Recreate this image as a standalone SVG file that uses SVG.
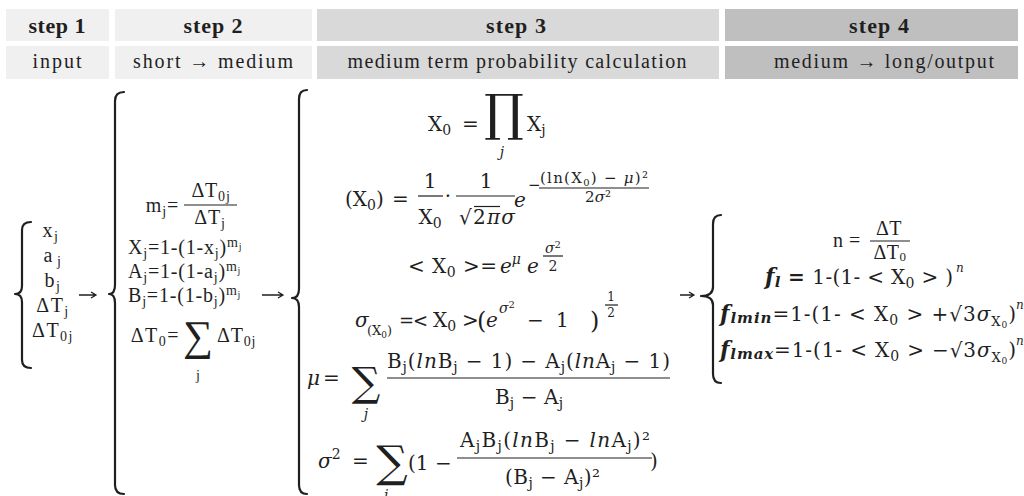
<svg xmlns="http://www.w3.org/2000/svg" width="1024" height="496" viewBox="0 0 1024 496">
<style>
text{font-family:"Liberation Serif","DejaVu Serif",serif;fill:#1f1f1f}
.hd{font-size:22px;font-weight:bold}
.sh{font-size:20px}
.f1{font-size:20px;letter-spacing:1.5px}
.f2{font-size:20px;letter-spacing:0.8px}
.m{font-family:"DejaVu Serif","Liberation Serif",serif}
.f3{font-size:20px}
.f4{font-size:20px;letter-spacing:0.5px}
.i{font-style:italic}
.bi{font-style:italic;font-weight:bold}
.br{fill:none;stroke:#1f1f1f;stroke-width:2.2;stroke-linecap:round;stroke-linejoin:round}
.bar{stroke:#1f1f1f;stroke-width:1.2}
.ar{fill:none;stroke:#1f1f1f;stroke-width:1.3}
.c12{fill:#f0f0f0}.c3{fill:#d9d9d9}.c4{fill:#bfbfbf}
</style>
<g id="header">
<rect class="c12" x="6" y="9" width="103" height="32"/>
<rect class="c12" x="115" y="9" width="197" height="32"/>
<rect class="c3" x="317" y="9" width="402" height="32"/>
<rect class="c4" x="725" y="9" width="293" height="32"/>
<rect class="c12" x="6" y="46" width="103" height="33"/>
<rect class="c12" x="115" y="46" width="197" height="33"/>
<rect class="c3" x="317" y="46" width="402" height="33"/>
<rect class="c4" x="725" y="46" width="293" height="33"/>
<text class="hd" x="57" y="33" text-anchor="middle" textLength="57">step 1</text>
<text class="hd" x="213" y="33" text-anchor="middle" textLength="59">step 2</text>
<text class="hd" x="516" y="33" text-anchor="middle" textLength="60">step 3</text>
<text class="hd" x="879" y="33" text-anchor="middle" textLength="60">step 4</text>
<text class="sh" x="57" y="68" text-anchor="middle" textLength="49">input</text>
<text class="sh" x="213" y="68" text-anchor="middle" textLength="160">short → medium</text>
<text class="sh" x="517" y="68" text-anchor="middle" textLength="339">medium term probability calculation</text>
<text class="sh" x="884" y="68" text-anchor="middle" textLength="220">medium → long/output</text>
</g>
<g id="step1-input">
<path class="br" d="M31,222 Q22,222 22,230 L22,286 Q22,294 15,294 Q22,294 22,302 L22,360 Q22,368 31,368"/>
<text class="f1" x="51" y="237" text-anchor="middle">x<tspan font-size="14" dy="4">j</tspan></text>
<text class="f1" x="53" y="262" text-anchor="middle">a<tspan font-size="14" dy="4" dx="3">j</tspan></text>
<text class="f1" x="53" y="287" text-anchor="middle">b<tspan font-size="14" dy="4">j</tspan></text>
<text class="f1" x="53" y="312" text-anchor="middle">ΔT<tspan font-size="14" dy="4">j</tspan></text>
<text class="f1" x="53" y="337" text-anchor="middle">ΔT<tspan font-size="14" dy="4">0j</tspan></text>
</g>
<g id="step2-short-medium">
<path class="br" d="M124,92 Q115,92 115,101 L115,285 Q115,294 109,294 Q115,294 115,303 L115,485 Q115,494 124,494"/>
<text class="f2" x="179" y="212" text-anchor="end">m<tspan font-size="14" dy="4">j</tspan><tspan dy="-4">=</tspan></text>
<text class="f2" x="211" y="197" text-anchor="middle">ΔT<tspan font-size="14" dy="4">0j</tspan></text>
<line class="bar" x1="184" y1="205" x2="237" y2="205"/>
<text class="f2" x="210" y="224" text-anchor="middle">ΔT<tspan font-size="14" dy="4">j</tspan></text>
<text class="f2" x="128" y="254">X<tspan font-size="14" dy="4">j</tspan><tspan dy="-4">=1-(1-x</tspan><tspan font-size="14" dy="4">j</tspan><tspan dy="-4">)</tspan><tspan font-size="14" dy="-7">m</tspan><tspan font-size="10" dy="3">j</tspan></text>
<text class="f2" x="128" y="278">A<tspan font-size="14" dy="4">j</tspan><tspan dy="-4">=1-(1-a</tspan><tspan font-size="14" dy="4">j</tspan><tspan dy="-4">)</tspan><tspan font-size="14" dy="-7">m</tspan><tspan font-size="10" dy="3">j</tspan></text>
<text class="f2" x="128" y="302">B<tspan font-size="14" dy="4">j</tspan><tspan dy="-4">=1-(1-b</tspan><tspan font-size="14" dy="4">j</tspan><tspan dy="-4">)</tspan><tspan font-size="14" dy="-7">m</tspan><tspan font-size="10" dy="3">j</tspan></text>
<text class="f2" x="180" y="342" text-anchor="end" font-size="21" style="letter-spacing:1.5px">ΔT<tspan font-size="14" dy="4">0</tspan><tspan dy="-4">=</tspan></text>
<text x="198" y="350" font-size="42" text-anchor="middle">∑</text>
<text class="f2" x="217" y="342">ΔT<tspan font-size="14" dy="4">0j</tspan></text>
<text x="198" y="380" font-size="14" text-anchor="middle">j</text>
</g>
<g id="step3-probability">
<path class="br" d="M307,90 Q299,90 299,99 L299,289 Q299,298 292,298 Q299,298 299,307 L299,485 Q299,494 307,494"/>
<text class="m f3" x="428" y="131">X<tspan font-size="14" dy="4">0</tspan><tspan dy="-4" x="462">=</tspan></text>
<text class="m" x="504" y="130" font-size="50" text-anchor="middle">∏</text>
<text class="m f3" x="527" y="131">X<tspan font-size="14" dy="4">j</tspan></text>
<text class="m i" x="502" y="157" font-size="14" text-anchor="middle">j</text>
<text class="m f3" x="345" y="206">(X<tspan font-size="14" dy="4">0</tspan><tspan dy="-4">)</tspan><tspan x="392">=</tspan></text>
<text class="m f3" x="430" y="188" text-anchor="middle">1</text>
<line class="bar" x1="418" y1="196" x2="443" y2="196"/>
<text class="m f3" x="430" y="224" text-anchor="middle">X<tspan font-size="14" dy="4">0</tspan></text>
<text class="m f3" x="448" y="203" text-anchor="middle">·</text>
<text class="m f3" x="486" y="188" text-anchor="middle">1</text>
<line class="bar" x1="456" y1="196" x2="515" y2="196"/>
<text class="m f3" x="459" y="224" textLength="56">√2<tspan class="i">πσ</tspan></text>
<line class="bar" x1="474" y1="206.5" x2="500" y2="206.5"/>
<text class="m f3 i" x="514" y="207">e</text>
<text class="m" font-size="15" x="528" y="190">−</text>
<text class="m" font-size="15" x="540" y="183" textLength="108">(ln(X<tspan font-size="10" dy="3">0</tspan><tspan dy="-3">) − </tspan><tspan class="i">μ</tspan>)²</text>
<line class="bar" x1="539" y1="188" x2="649" y2="188"/>
<text class="m" font-size="15" x="598" y="202" text-anchor="middle">2<tspan class="i">σ</tspan>²</text>
<text class="m f3" x="408" y="273" textLength="89">&lt; X<tspan font-size="14" dy="4">0</tspan><tspan dy="-4"> &gt;=</tspan></text>
<text class="m f3 i" x="500" y="273">e<tspan font-size="14" dy="-9">μ</tspan><tspan dy="9" x="527">e</tspan></text>
<text class="m i" font-size="14" x="553" y="253" text-anchor="middle">σ<tspan font-style="normal" font-size="10" dy="-5">2</tspan></text>
<line class="bar" x1="543" y1="256" x2="563" y2="256"/>
<text class="m" font-size="14" x="553" y="271" text-anchor="middle">2</text>
<text class="m f3 i" x="355" y="327">σ</text>
<text class="m" font-size="13" x="367" y="335">(X<tspan font-size="9" dy="3">0</tspan><tspan dy="-3">)</tspan></text>
<text class="m" font-size="18" x="399" y="327">=</text>
<text class="m" font-size="18" x="413" y="327">&lt;</text>
<text class="m f3" x="433" y="327">X<tspan font-size="14" dy="4">0</tspan><tspan dy="-4" x="462">&gt;</tspan></text>
<text class="m" font-size="24" x="477" y="329">(</text>
<text class="m f3 i" x="486" y="327">e</text>
<text class="m i" font-size="14" x="499" y="313">σ<tspan font-style="normal" font-size="10" dy="-5">2</tspan></text>
<text class="m f3" x="527" y="327">−<tspan x="556">1</tspan></text>
<text class="m" font-size="24" x="590" y="329">)</text>
<text class="m" font-size="12" x="611" y="301" text-anchor="middle">1</text>
<line class="bar" x1="605" y1="305" x2="618" y2="305"/>
<text class="m" font-size="12" x="611" y="317" text-anchor="middle">2</text>
<text class="m f3 i" x="307" y="385">μ<tspan font-style="normal" x="323">=</tspan></text>
<text class="m" x="366" y="396" font-size="40" text-anchor="middle">∑</text>
<text class="m i" x="366" y="419" font-size="14" text-anchor="middle">j</text>
<text class="m f3" x="387" y="368" textLength="283">B<tspan font-size="14" dy="4">j</tspan><tspan dy="-4">(</tspan><tspan class="i">ln</tspan>B<tspan font-size="14" dy="4">j</tspan><tspan dy="-4"> − 1) − A</tspan><tspan font-size="14" dy="4">j</tspan><tspan dy="-4">(</tspan><tspan class="i">ln</tspan>A<tspan font-size="14" dy="4">j</tspan><tspan dy="-4"> − 1)</tspan></text>
<line class="bar" x1="387" y1="378" x2="670" y2="378"/>
<text class="m f3" x="495" y="404" textLength="68">B<tspan font-size="14" dy="4">j</tspan><tspan dy="-4"> − A</tspan><tspan font-size="14" dy="4">j</tspan></text>
<text class="m f3 i" x="318" y="468">σ<tspan font-style="normal" font-size="14" dy="-9">2</tspan><tspan font-style="normal" dy="9" x="352">=</tspan></text>
<text class="m" x="392" y="477" font-size="44" text-anchor="middle">∑</text>
<text class="m i" x="386" y="500" font-size="14" text-anchor="middle">j</text>
<text class="m f3" x="408" y="470">(1 −</text>
<text class="m f3" x="460" y="447" textLength="190">A<tspan font-size="14" dy="4">j</tspan><tspan dy="-4">B</tspan><tspan font-size="14" dy="4">j</tspan><tspan dy="-4">(</tspan><tspan class="i">ln</tspan>B<tspan font-size="14" dy="4">j</tspan><tspan dy="-4"> − </tspan><tspan class="i">ln</tspan>A<tspan font-size="14" dy="4">j</tspan><tspan dy="-4">)²</tspan></text>
<line class="bar" x1="457" y1="458" x2="652" y2="458"/>
<text class="m f3" x="505" y="484" textLength="95">(B<tspan font-size="14" dy="4">j</tspan><tspan dy="-4"> − A</tspan><tspan font-size="14" dy="4">j</tspan><tspan dy="-4">)²</tspan></text>
<text class="m f3" x="650" y="468">)</text>
</g>
<g id="step4-long-output">
<path class="br" d="M721,215 Q713,215 713,224 L713,287 Q713,296 701,296 Q713,296 713,305 L713,374 Q713,383 721,383"/>
<text class="f4" x="833" y="247">n =</text>
<text class="f4" x="889" y="235" text-anchor="middle">ΔT</text>
<line class="bar" x1="870" y1="241" x2="910" y2="241"/>
<text class="f4" x="890" y="259" text-anchor="middle">ΔT<tspan font-size="13" dy="2">0</tspan></text>
<text class="m" font-size="20" x="765" y="284" textLength="188"><tspan class="bi" font-size="22">f</tspan><tspan class="bi" font-size="15" dy="3">l</tspan><tspan dy="-3" font-weight="bold"> = </tspan>1-(1- &lt; X<tspan font-size="14" dy="4">0</tspan><tspan dy="-4"> &gt; )</tspan></text>
<text class="m i" x="956" y="272" font-size="12">n</text>
<text class="m" font-size="20" x="720" y="321" textLength="296"><tspan class="bi" font-size="22">f</tspan><tspan class="bi" font-size="15" dy="2">lmin</tspan><tspan dy="-2">=1-(1- &lt; X</tspan><tspan font-size="14" dy="4">0</tspan><tspan dy="-4"> &gt; +√3</tspan><tspan class="i">σ</tspan><tspan font-size="13" dy="5">X</tspan><tspan font-size="9" dy="2">0</tspan><tspan dy="-7">)</tspan></text>
<text class="m i" x="1016" y="309" font-size="12">n</text>
<text class="m" font-size="20" x="720" y="357" textLength="296"><tspan class="bi" font-size="22">f</tspan><tspan class="bi" font-size="15" dy="2">lmax</tspan><tspan dy="-2">=1-(1- &lt; X</tspan><tspan font-size="14" dy="4">0</tspan><tspan dy="-4"> &gt; −√3</tspan><tspan class="i">σ</tspan><tspan font-size="13" dy="5">X</tspan><tspan font-size="9" dy="2">0</tspan><tspan dy="-7">)</tspan></text>
<text class="m i" x="1016" y="345" font-size="12">n</text>
</g>
<g id="connectors">
<path class="ar" d="M79,295 H96 M91,292 L96,295 L91,298"/>
<path class="ar" d="M262,295 H283 M278,292 L283,295 L278,298"/>
<path class="ar" d="M680,295 H694 M689,292 L694,295 L689,298"/>
</g>
</svg>
